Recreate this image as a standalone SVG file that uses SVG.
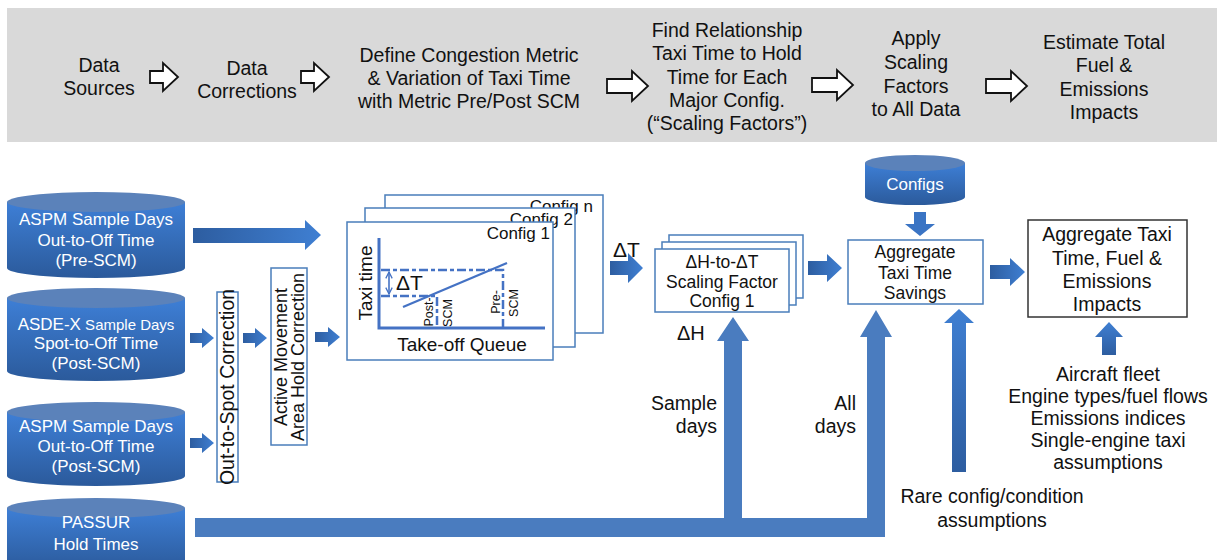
<svg xmlns="http://www.w3.org/2000/svg" width="1222" height="560" viewBox="0 0 1222 560">
  <style>
    text { font-family: "Liberation Sans", Arial, sans-serif; fill: #111; }
    .bn { font-size: 19.5px; text-anchor: middle; }
    .cy { font-size: 17px; fill: #fff; text-anchor: middle; }
    .bx { font-size: 17.5px; text-anchor: middle; }
    .lb { font-size: 19.5px; }
    .frame { fill: #fff; stroke: #4a7ebb; stroke-width: 1.5; }
    .hollow { fill: #fff; stroke: #111; stroke-width: 1.8; stroke-linejoin: miter; }
    .axis { fill: none; stroke: #4472c4; stroke-width: 3; }
    .dash { fill: none; stroke: #4472c4; stroke-width: 2.5; stroke-dasharray: 9 3 4 3; }
  </style>
  <defs>
    <linearGradient id="cylBody" x1="0" y1="0" x2="0" y2="1">
      <stop offset="0" stop-color="#3e7fd6"/>
      <stop offset="1" stop-color="#2b5a9b"/>
    </linearGradient>
    <linearGradient id="gradH" x1="0" y1="0" x2="1" y2="0">
      <stop offset="0" stop-color="#2d5da0"/>
      <stop offset="1" stop-color="#3f7fd2"/>
    </linearGradient>
    <linearGradient id="gradV" x1="0" y1="0" x2="0" y2="1">
      <stop offset="0" stop-color="#3f7fd2"/>
      <stop offset="1" stop-color="#2d5da0"/>
    </linearGradient>
    <path id="arrS" d="M0,-6 H13 V-14 L28,0 L13,14 V6 H0 Z"/>
    <path id="arrW" d="M0,-7 H25 V-15 L41,0 L25,15 V7 H0 Z"/>
    <marker id="vhead" viewBox="0 0 10 10" refX="9" refY="5" markerWidth="8" markerHeight="8" orient="auto-start-reverse" markerUnits="userSpaceOnUse">
      <path d="M1,1 L9,5 L1,9" fill="none" stroke="#4472c4" stroke-width="1.6"/>
    </marker>
  </defs>

  <!-- process banner -->
  <g id="banner">
    <rect x="7" y="8" width="1210" height="134" fill="#d9d9d9"/>
    <text class="bn" x="99" y="72">Data</text>
    <text class="bn" x="99" y="95">Sources</text>
    <use href="#arrS" class="hollow" x="150" y="77"/>
    <text class="bn" x="247" y="75">Data</text>
    <text class="bn" x="247" y="98">Corrections</text>
    <use href="#arrS" class="hollow" x="301" y="77"/>
    <text class="bn" x="469" y="62">Define Congestion Metric</text>
    <text class="bn" x="469" y="85">&amp; Variation of Taxi Time</text>
    <text class="bn" x="469" y="108">with Metric Pre/Post SCM</text>
    <use href="#arrW" class="hollow" x="607" y="86"/>
    <text class="bn" x="727" y="37">Find Relationship</text>
    <text class="bn" x="727" y="60">Taxi Time to Hold</text>
    <text class="bn" x="727" y="84">Time for Each</text>
    <text class="bn" x="727" y="107">Major Config.</text>
    <text class="bn" x="727" y="130">(“Scaling Factors”)</text>
    <use href="#arrW" class="hollow" x="812" y="85"/>
    <text class="bn" x="916" y="45">Apply</text>
    <text class="bn" x="916" y="69">Scaling</text>
    <text class="bn" x="916" y="93">Factors</text>
    <text class="bn" x="916" y="116">to All Data</text>
    <use href="#arrW" class="hollow" x="986" y="86"/>
    <text class="bn" x="1104" y="49">Estimate Total</text>
    <text class="bn" x="1104" y="72">Fuel &amp;</text>
    <text class="bn" x="1104" y="96">Emissions</text>
    <text class="bn" x="1104" y="119">Impacts</text>
  </g>

  <!-- data source cylinders -->
  <g id="aspm-pre">
    <path d="M7,202 V268 A89,10 0 0 0 185,268 V202 Z" fill="url(#cylBody)"/>
    <ellipse cx="96" cy="202" rx="89" ry="10" fill="#5b82ba"/>
    <text class="cy" x="96" y="225">ASPM Sample Days</text>
    <text class="cy" x="96" y="246">Out-to-Off Time</text>
    <text class="cy" x="96" y="266">(Pre-SCM)</text>
  </g>
  <g id="asdex-post">
    <path d="M7,298 V371 A89,10 0 0 0 185,371 V298 Z" fill="url(#cylBody)"/>
    <ellipse cx="96" cy="298" rx="89" ry="10" fill="#5b82ba"/>
    <text class="cy" x="96" y="330">ASDE-X<tspan font-size="15px"> Sample Days</tspan></text>
    <text class="cy" x="96" y="349">Spot-to-Off Time</text>
    <text class="cy" x="96" y="369">(Post-SCM)</text>
  </g>
  <g id="aspm-post">
    <path d="M7,412 V476 A89,10 0 0 0 185,476 V412 Z" fill="url(#cylBody)"/>
    <ellipse cx="96" cy="412" rx="89" ry="10" fill="#5b82ba"/>
    <text class="cy" x="96" y="432">ASPM Sample Days</text>
    <text class="cy" x="96" y="452">Out-to-Off Time</text>
    <text class="cy" x="96" y="472">(Post-SCM)</text>
  </g>
  <g id="passur">
    <path d="M7,508 V570 H185 V508 Z" fill="url(#cylBody)"/>
    <ellipse cx="96" cy="508" rx="89" ry="10" fill="#5b82ba"/>
    <text class="cy" x="96" y="528">PASSUR</text>
    <text class="cy" x="96" y="550">Hold Times</text>
  </g>
  <g id="configs">
    <path d="M865,163 V197 A50,8 0 0 0 965,197 V163 Z" fill="url(#cylBody)"/>
    <ellipse cx="915" cy="163" rx="50" ry="8" fill="#5b82ba"/>
    <text class="cy" x="915" y="190">Configs</text>
  </g>

  <!-- correction steps -->
  <g id="out-to-spot">
    <rect class="frame" x="217" y="292" width="21" height="190"/>
    <text class="lb" font-size="18px" text-anchor="middle" transform="translate(234,387) rotate(-90)">Out-to-Spot Correction</text>
  </g>
  <g id="active-movement">
    <rect class="frame" x="271" y="268" width="36" height="177"/>
    <text font-size="18px" text-anchor="middle" transform="translate(287,357) rotate(-90)">Active Movement</text>
    <text font-size="18px" text-anchor="middle" transform="translate(304,357) rotate(-90)">Area Hold Correction</text>
  </g>

  <!-- per-configuration taxi time charts -->
  <g id="config-charts">
    <rect class="frame" x="385" y="195" width="218" height="138"/>
    <text x="593" y="212" font-size="17px" text-anchor="end">Config n</text>
    <rect class="frame" x="365" y="208" width="210" height="139"/>
    <text x="573" y="225" font-size="17px" text-anchor="end">Config 2</text>
    <rect class="frame" x="347" y="222" width="206" height="138"/>
    <text x="550" y="239" font-size="17px" text-anchor="end">Config 1</text>
    <path class="dash" d="M381,270 H503 V327"/>
    <path class="dash" d="M381,296 H437 V327"/>
    <path d="M403,307 L507,263" fill="none" stroke="#4472c4" stroke-width="2.2"/>
    <path class="axis" d="M379,238 V328 H545"/>
    <line x1="389" y1="272" x2="389" y2="294" stroke="#4472c4" stroke-width="1.6" marker-start="url(#vhead)" marker-end="url(#vhead)"/>
    <text x="396" y="290" font-size="21px">ΔT</text>
    <text font-size="19px" text-anchor="middle" transform="translate(372,283) rotate(-90)">Taxi time</text>
    <text x="462" y="351" font-size="19px" text-anchor="middle">Take-off Queue</text>
    <text font-size="12.5px" text-anchor="middle" transform="translate(433,312) rotate(-90)">Post-</text>
    <text font-size="12.5px" text-anchor="middle" transform="translate(452,313) rotate(-90)">SCM</text>
    <text font-size="12.5px" text-anchor="middle" transform="translate(500,302) rotate(-90)">Pre-</text>
    <text font-size="12.5px" text-anchor="middle" transform="translate(518,303) rotate(-90)">SCM</text>
  </g>

  <g id="scaling-factor">
    <rect class="frame" x="669" y="235" width="134" height="63"/>
    <rect class="frame" x="662" y="242" width="134" height="63"/>
    <rect class="frame" x="655" y="249" width="134" height="63"/>
    <text class="bx" x="722" y="268">ΔH-to-ΔT</text>
    <text class="bx" x="722" y="288">Scaling Factor</text>
    <text class="bx" x="722" y="307">Config 1</text>
  </g>

  <g id="aggregate-savings">
    <rect class="frame" x="848" y="240" width="135" height="64"/>
    <text class="bx" x="915" y="258">Aggregate</text>
    <text class="bx" x="915" y="279">Taxi Time</text>
    <text class="bx" x="915" y="299">Savings</text>
  </g>

  <g id="aggregate-impacts">
    <rect x="1028" y="220" width="159" height="97" fill="#fff" stroke="#333" stroke-width="1.5"/>
    <text class="bn" x="1107" y="241">Aggregate Taxi</text>
    <text class="bn" x="1107" y="265">Time, Fuel &amp;</text>
    <text class="bn" x="1107" y="288">Emissions</text>
    <text class="bn" x="1107" y="311">Impacts</text>
  </g>

  <g id="impact-inputs">
    <text class="bn" x="1108" y="381">Aircraft fleet</text>
    <text class="bn" x="1108" y="403">Engine types/fuel flows</text>
    <text class="bn" x="1108" y="425">Emissions indices</text>
    <text class="bn" x="1108" y="447">Single-engine taxi</text>
    <text class="bn" x="1108" y="469">assumptions</text>
  </g>

  <g id="rare-config">
    <text class="bn" x="992" y="503">Rare config/condition</text>
    <text class="bn" x="992" y="527">assumptions</text>
  </g>

  <!-- connectors -->
  <g id="connectors">
    <path d="M193,228 H305 V220 L321,235 L305,250 V243 H193 Z" fill="url(#gradH)"/>
    <path d="M190,333 H202 V328 L214,338 L202,348 V343 H190 Z" fill="url(#gradH)"/>
    <path d="M243,333 H255 V328 L267,338 L255,348 V343 H243 Z" fill="url(#gradH)"/>
    <path d="M315,332 H328 V327 L340,337 L328,347 V342 H315 Z" fill="url(#gradH)"/>
    <path d="M190,438 H202 V433 L214,443 L202,453 V448 H190 Z" fill="url(#gradH)"/>
    <path d="M610,261 H628 V253 L643,268 L628,283 V275 H610 Z" fill="url(#gradH)"/>
    <path d="M808,261 H827 V254 L842,268 L827,282 V275 H808 Z" fill="url(#gradH)"/>
    <path d="M990,265 H1010 V258 L1025,272 L1010,286 V279 H990 Z" fill="url(#gradH)"/>
    <path d="M914,212 H926 V224 H935 L920,236 L905,224 H914 Z" fill="#3a74c4"/>
    <path d="M1102,355 V337 H1095 L1109,322 L1123,337 H1116 V355 Z" fill="url(#gradV)"/>
    <path d="M952,472 V323 H944 L959,309 L974,323 H966 V472 Z" fill="url(#gradV)"/>
    <path d="M195,518 H724 V341 H717 L733,317 L749,341 H742 V518 H867 V337 H860 L876,310 L892,337 H885 V537 H195 Z" fill="#4a7cbf"/>
  </g>

  <!-- connector labels -->
  <g id="connector-labels">
    <text x="613" y="257" font-size="21px">ΔT</text>
    <text x="677" y="340" font-size="20px">ΔH</text>
    <text class="lb" x="717" y="410" text-anchor="end">Sample</text>
    <text class="lb" x="717" y="433" text-anchor="end">days</text>
    <text class="lb" x="856" y="410" text-anchor="end">All</text>
    <text class="lb" x="856" y="433" text-anchor="end">days</text>
  </g>
</svg>
